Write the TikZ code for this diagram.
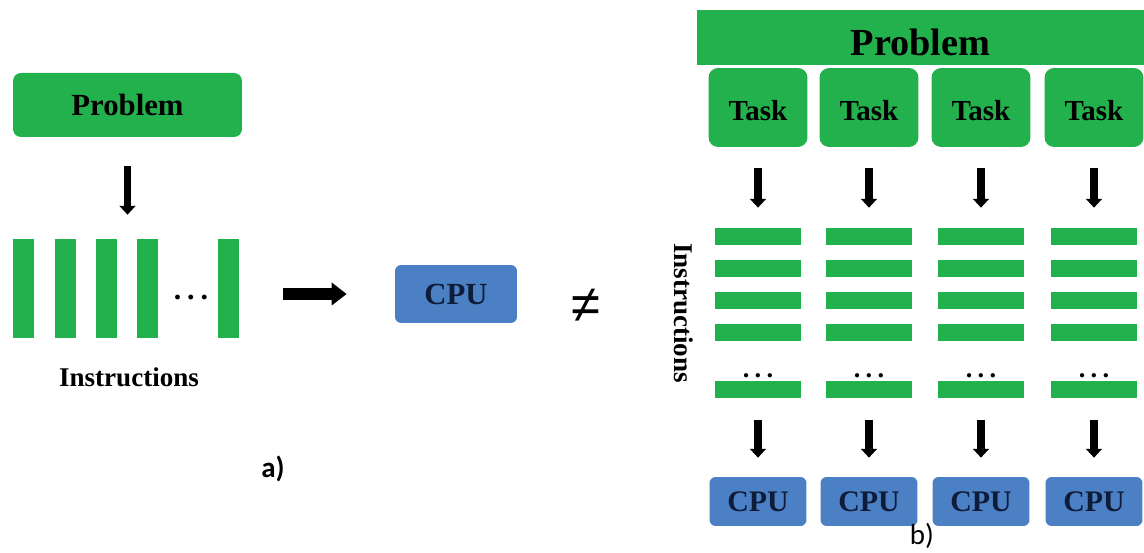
\documentclass[tikz,border=0pt]{standalone}
\usepackage{fontspec}
\setmainfont{Liberation Serif}
\newfontfamily\labelfont{Carlito}
\newfontfamily\symfont{Liberation Sans}
\usepackage{tikz}
\usetikzlibrary{arrows.meta, positioning, calc}
\definecolor{probgreen}{RGB}{34,177,76}
\definecolor{cpublue}{RGB}{76,128,196}
\definecolor{cpunavy}{RGB}{14,28,58}
\tikzset{
	greenbox/.style={fill=probgreen, inner sep=0pt, font=\bfseries\fontsize{17.5}{20}\selectfont},
	taskbox/.style={greenbox, rounded corners=5.5pt, minimum width=1.98cm, minimum height=1.58cm, text height=15pt, text depth=0pt, font=\bfseries\fontsize{16.5}{19}\selectfont},
	instr/.style={fill=probgreen, inner sep=0pt},
	cpubox/.style={fill=cpublue, rounded corners=3.5pt, inner sep=0pt, text=cpunavy, font=\bfseries\fontsize{17}{20}\selectfont},
	instrlabel/.style={font=\bfseries\fontsize{15.4}{18}\selectfont},
	fatarrow/.style={line width=4.2pt, -{Triangle[width=9pt,length=5pt]}},
	widearrow/.style={line width=6.5pt, -{Triangle[width=12.5pt,length=8.5pt]}},
}

\begin{document}
\begin{tikzpicture}[x=0.02cm, y=-0.02cm]
	\useasboundingbox (0,0) rectangle (1144,553);
	% a) one cpu
	\node[greenbox, rounded corners=4.5pt, minimum width=4.58cm, minimum height=1.28cm] (prob) at (127.5,105) {Problem};
	\foreach \i/\x in {1/23.5,2/65.5,3/106.5,4/147.5,5/228.5}
		\node[instr, minimum width=0.42cm, minimum height=1.98cm] (l\i) at (\x,288.5) {};
	\node[font=\bfseries\fontsize{17}{20}\selectfont, anchor=base] (ldots) at (191,300) {.\hspace{0.2em}.\hspace{0.2em}.};
	\node[instrlabel] (linstr) at (129,377) {Instructions};
	\node[cpubox, minimum width=2.44cm, minimum height=1.16cm, font=\bfseries\fontsize{17.5}{20}\selectfont] (cpu) at (456,294) {CPU};
	\node[font=\symfont\fontsize{30}{34}\selectfont] (neq) at (586,306) {≠};
	\node[font=\labelfont\bfseries\fontsize{16.5}{19}\selectfont] (la) at (273,469) {a)};
	\coordinate (ltop) at (prob.south |- l1.north);
	\draw[fatarrow, shorten <=0.58cm, shorten >=0.48cm] (prob.south) -- (ltop);
	\draw[widearrow, shorten <=0.88cm, shorten >=0.96cm] (l5.east |- cpu.west) -- (cpu.west);

	% b) many cpus
	\node[greenbox, minimum width=8.94cm, minimum height=1.1cm, text height=21pt, text depth=0pt, font=\bfseries\fontsize{21.8}{24}\selectfont] (bigprob) at (920.5,37.5) {Problem};
	\node[instrlabel, rotate=-90] (rinstr) at (684,313) {Instructions};
	\foreach \c/\x in {1/758,2/869,3/981,4/1094}{
		\node[taskbox] (t\c) at (\x,107.5) {Task};
		\foreach \r/\y in {1/236.5,2/268.5,3/300.5,4/332.5,5/390}
			\node[instr, minimum width=1.72cm, minimum height=0.34cm] (b\c\r) at (\x,\y) {};
		\node[font=\bfseries\fontsize{15}{18}\selectfont, anchor=base] (d\c) at (\x,378) {.\hspace{0.2em}.\hspace{0.2em}.};
		\node[cpubox, minimum width=1.94cm, minimum height=0.98cm] (c\c) at (\x,501.5) {CPU};
		\draw[fatarrow, shorten <=0.42cm, shorten >=0.4cm] (t\c) -- (b\c1);
		\draw[fatarrow, shorten <=0.42cm, shorten >=0.38cm] (b\c5) -- (c\c);
	}
	\node[font=\labelfont\fontsize{16.5}{19}\selectfont] (lb) at (922,536) {b)};
\end{tikzpicture}
\end{document}
